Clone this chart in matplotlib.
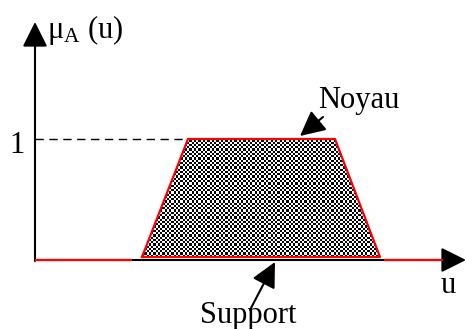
import numpy as np
import matplotlib
matplotlib.use("Agg")
import matplotlib.pyplot as plt
from matplotlib.patches import Polygon

plt.rcParams['font.family'] = ['Liberation Serif', 'DejaVu Serif']

# data (u units, membership values)
trap_u = [10.7, 15.3, 30.0, 34.5]
trap_mu = [0.025, 1.0, 1.0, 0.025]
u_min, u_max = 0.0, 41.5
ylabel_text = r"$\mathregular{\mu_A}$ (u)"
xlabel_text = "u"
one_label = "1"
noyau_label = "Noyau"
support_label = "Support"

W, H = 467, 329
S = 121.0  # pixels per membership unit
fig = plt.figure(figsize=(W / 100, H / 100), dpi=100)
ax = fig.add_axes([0, 0, 1, 1])
ax.set_xlim(-3.5, 43.2)
ax.set_ylim(-69 / S, 260 / S)
ax.axis('off')

# checkerboard fill clipped to trapezoid
poly_xy = list(zip(trap_u, trap_mu))
poly = Polygon(poly_xy, closed=True, facecolor='none', edgecolor='none')
ax.add_patch(poly)
x0, x1 = trap_u[0], trap_u[3]
y0, y1 = trap_mu[0], trap_mu[1]
cw = 0.225  # cell width in u
ch = 2.25 / S
nx = int(np.ceil((x1 - x0) / cw))
ny = int(np.ceil((y1 - y0) / ch))
ii, jj = np.meshgrid(np.arange(nx), np.arange(ny))
board = ((ii + jj) % 2).astype(float)
im = ax.imshow(board, cmap='gray', extent=(x0, x0 + nx * cw, y0, y0 + ny * ch),
               origin='lower', interpolation='nearest', aspect='auto', vmin=0, vmax=1, zorder=1)
im.set_clip_path(poly)

# axes
ax.annotate('', xy=(u_max + 1.6, 0), xytext=(0, 0),
            arrowprops=dict(arrowstyle='-|>,head_length=0.9,head_width=0.45', lw=1.5, color='black',
                            mutation_scale=17, shrinkA=0, shrinkB=0), zorder=3)
ax.annotate('', xy=(0, 238 / S), xytext=(0, -1 / S),
            arrowprops=dict(arrowstyle='-|>,head_length=0.9,head_width=0.45', lw=1.5, color='black',
                            mutation_scale=17, shrinkA=0, shrinkB=0), zorder=3)

# red membership outline
ax.plot([0, trap_u[0] - 1.0], [0, 0], color='red', lw=1.6, zorder=4, solid_capstyle='butt')
ax.plot([trap_u[3] + 0.4, u_max - 0.7], [0, 0], color='red', lw=1.6, zorder=4, solid_capstyle='butt')
ax.plot(trap_u + [trap_u[0]], trap_mu + [trap_mu[0]], color='red', lw=1.6, zorder=4)

# dashed level line
ax.plot([0, trap_u[1]], [1, 1], color='black', lw=1.0, ls=(0, (6, 4)), zorder=2)

# labels
fs = 22
ax.text(1.2, (260 - 38) / S, ylabel_text, fontsize=fs, ha='left', va='baseline')
ax.text(-1.8, (260 - 153) / S, one_label, fontsize=fs, ha='center', va='baseline')
ax.text(41.3, (260 - 293) / S, xlabel_text, fontsize=fs, ha='center', va='baseline')
ax.text(32.4, (260 - 108) / S, noyau_label, fontsize=fs, ha='center', va='baseline')
ax.text(21.3, (260 - 323) / S, support_label, fontsize=fs, ha='center', va='baseline')

ax.annotate('', xy=(26.5, (260 - 136) / S), xytext=(28.8, (260 - 117) / S),
            arrowprops=dict(arrowstyle='-|>,head_length=0.9,head_width=0.45', lw=1.5, color='black',
                            mutation_scale=17, shrinkA=0, shrinkB=0), zorder=5)
ax.annotate('', xy=(24.0, (260 - 262) / S), xytext=(21.5, (260 - 310) / S),
            arrowprops=dict(arrowstyle='-|>,head_length=0.9,head_width=0.45', lw=1.5, color='black',
                            mutation_scale=17, shrinkA=0, shrinkB=0), zorder=5)

fig.savefig('out.png', dpi=100)
